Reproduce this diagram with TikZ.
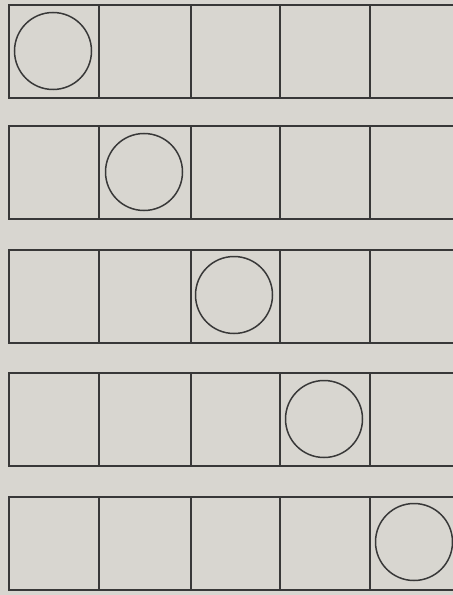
\documentclass[tikz,border=0pt]{standalone}
\begin{document}
\begin{tikzpicture}[x=1bp,y=-1bp,
  frame/.style={draw=black!78,line width=1.6bp},
  ring/.style={draw=black!78,line width=1.5bp}]
\definecolor{paper}{RGB}{216,214,208}
\useasboundingbox (0,0) rectangle (453,595);
\clip (0,0) rectangle (453,595);
\fill[paper] (0,0) rectangle (453,595);
\foreach \r/\top in {1/4,2/125,3/249,4/372,5/496}{
  \foreach \c/\x/\w in {1/8/90,2/98/92,3/190/89,4/279/90,5/369/93}{
    \node[frame,inner sep=0pt,minimum width=\w bp,minimum height=93bp,anchor=north west] (b\r\c) at (\x,\top) {};
  }
}
\foreach \i/\cx/\cy in {1/53/51,2/144/172,3/234/295,4/324/419,5/414/542}{
  \node[ring,circle,inner sep=0pt,minimum size=77bp] (c\i) at (\cx,\cy) {};
}
\end{tikzpicture}
\end{document}
